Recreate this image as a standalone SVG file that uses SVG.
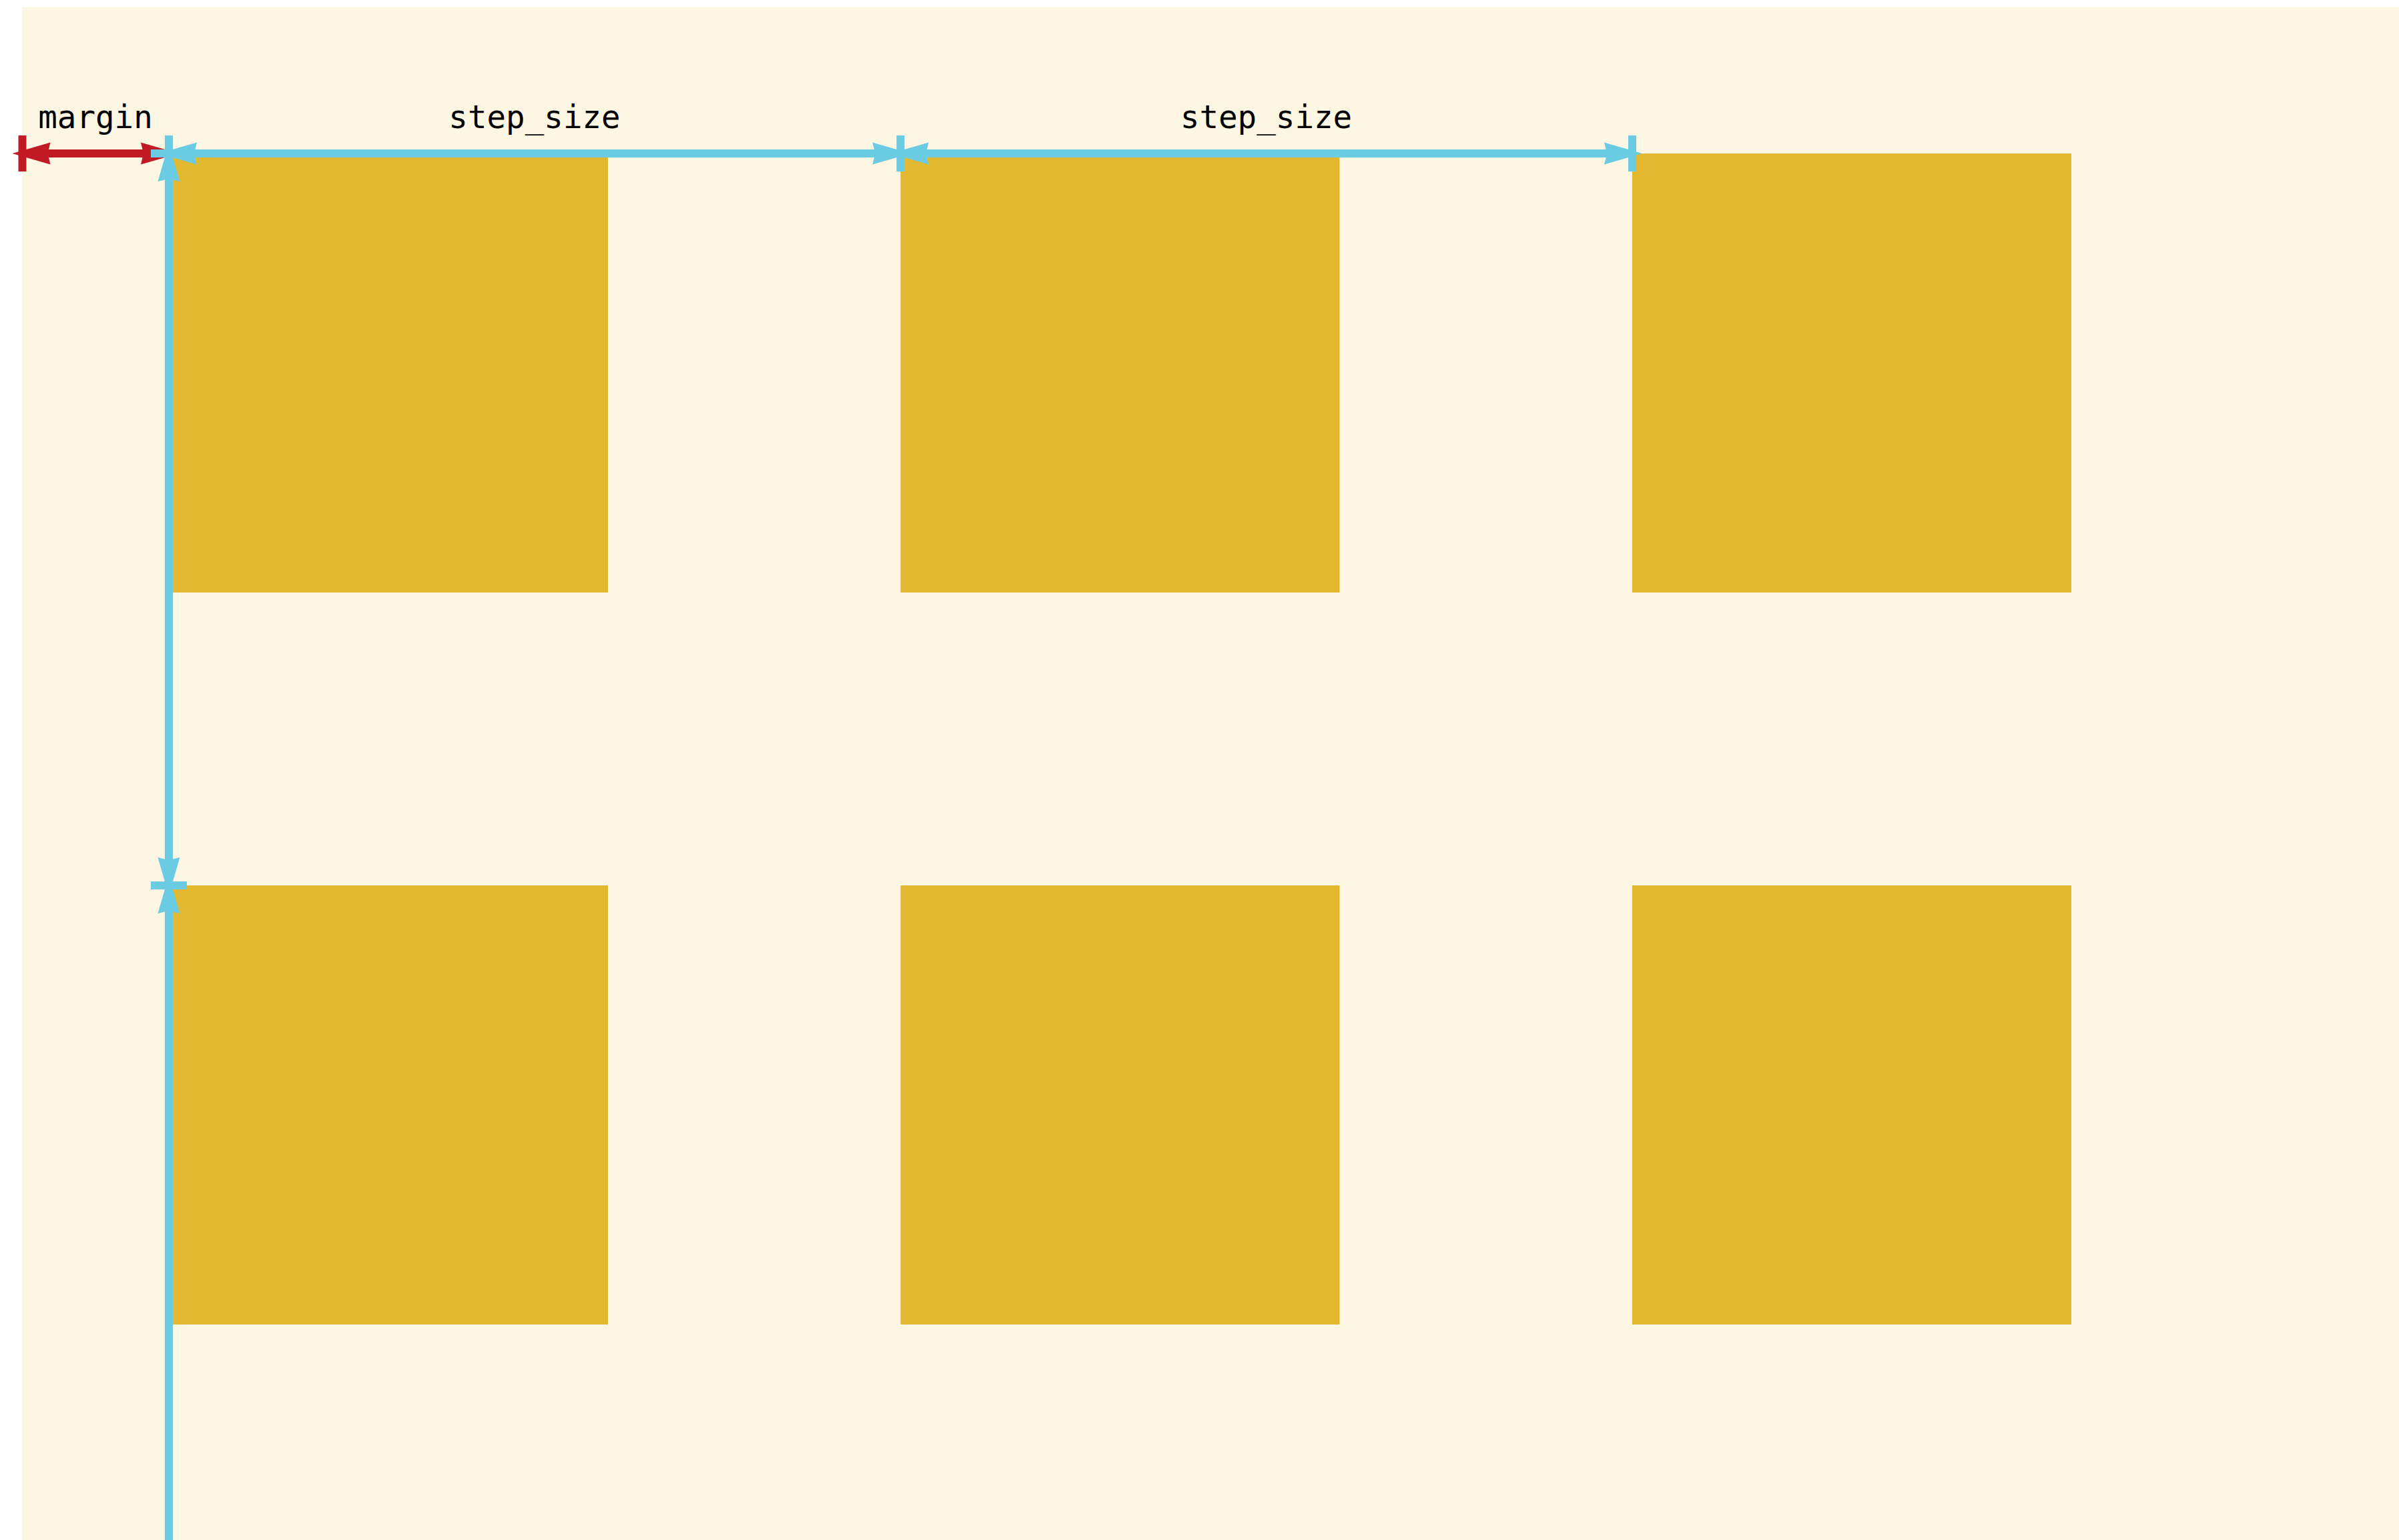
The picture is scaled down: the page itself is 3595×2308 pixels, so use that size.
<svg xmlns="http://www.w3.org/2000/svg" width="3595" height="2308" viewBox="0 0 3595 2308">
  <style>
    .bg { fill: #fdf6e3; }
    .sq { fill: #e2b831; }
    .dim-blue { stroke: #6acbe3; stroke-width: 12; fill: none; }
    .dim-red { stroke: #c21a25; stroke-width: 12; fill: none; }
    .lbl { font-family: "DejaVu Sans Mono", "Liberation Mono", monospace; font-size: 47.5px; fill: #000; text-anchor: middle; }
  </style>
  <defs>
    <marker id="arrBlue" markerUnits="userSpaceOnUse" viewBox="-70 -25 90 50" refX="0" refY="0" markerWidth="90" markerHeight="50" orient="auto-start-reverse" overflow="visible">
      <path d="M15,0 L-42,-16.5 L-38,0 L-42,16.5 Z" fill="#6acbe3"/>
    </marker>
    <marker id="arrRed" markerUnits="userSpaceOnUse" viewBox="-70 -25 90 50" refX="0" refY="0" markerWidth="90" markerHeight="50" orient="auto-start-reverse" overflow="visible">
      <path d="M15,0 L-42,-16.5 L-38,0 L-42,16.5 Z" fill="#c21a25"/>
    </marker>
  </defs>

  <rect class="bg" x="33" y="11" width="3562" height="2297"/>

  <g id="square-r1c1"><rect class="sq" x="253" y="230" width="658" height="658"/></g>
  <g id="square-r1c2"><rect class="sq" x="1349.5" y="230" width="658" height="658"/></g>
  <g id="square-r1c3"><rect class="sq" x="2446" y="230" width="658" height="658"/></g>
  <g id="square-r2c1"><rect class="sq" x="253" y="1327" width="658" height="658"/></g>
  <g id="square-r2c2"><rect class="sq" x="1349.5" y="1327" width="658" height="658"/></g>
  <g id="square-r2c3"><rect class="sq" x="2446" y="1327" width="658" height="658"/></g>

  <g id="connectors">
    <g id="dim-margin">
      <line class="dim-red" x1="33.5" y1="203" x2="33.5" y2="257"/>
      <line class="dim-red" x1="33.5" y1="230" x2="253" y2="230" marker-start="url(#arrRed)" marker-end="url(#arrRed)"/>
      <text class="lbl" x="143" y="192">margin</text>
    </g>
    <g id="dim-step-x1">
      <line class="dim-blue" x1="253" y1="230" x2="1349.5" y2="230" marker-start="url(#arrBlue)" marker-end="url(#arrBlue)"/>
      <line class="dim-blue" x1="253" y1="203" x2="253" y2="257"/>
      <line class="dim-blue" x1="1349.5" y1="203" x2="1349.5" y2="257"/>
      <text class="lbl" x="801" y="192">step_size</text>
    </g>
    <g id="dim-step-x2">
      <line class="dim-blue" x1="1349.5" y1="230" x2="2446" y2="230" marker-start="url(#arrBlue)" marker-end="url(#arrBlue)"/>
      <line class="dim-blue" x1="2446" y1="203" x2="2446" y2="257"/>
      <text class="lbl" x="1897.5" y="192">step_size</text>
    </g>
    <g id="dim-step-y1">
      <line class="dim-blue" x1="253" y1="230" x2="253" y2="1327" marker-start="url(#arrBlue)" marker-end="url(#arrBlue)"/>
      <line class="dim-blue" x1="226" y1="230" x2="280" y2="230"/>
      <line class="dim-blue" x1="226" y1="1327" x2="280" y2="1327"/>
    </g>
    <g id="dim-step-y2">
      <line class="dim-blue" x1="253" y1="1327" x2="253" y2="2308" marker-start="url(#arrBlue)"/>
    </g>
  </g>
</svg>
